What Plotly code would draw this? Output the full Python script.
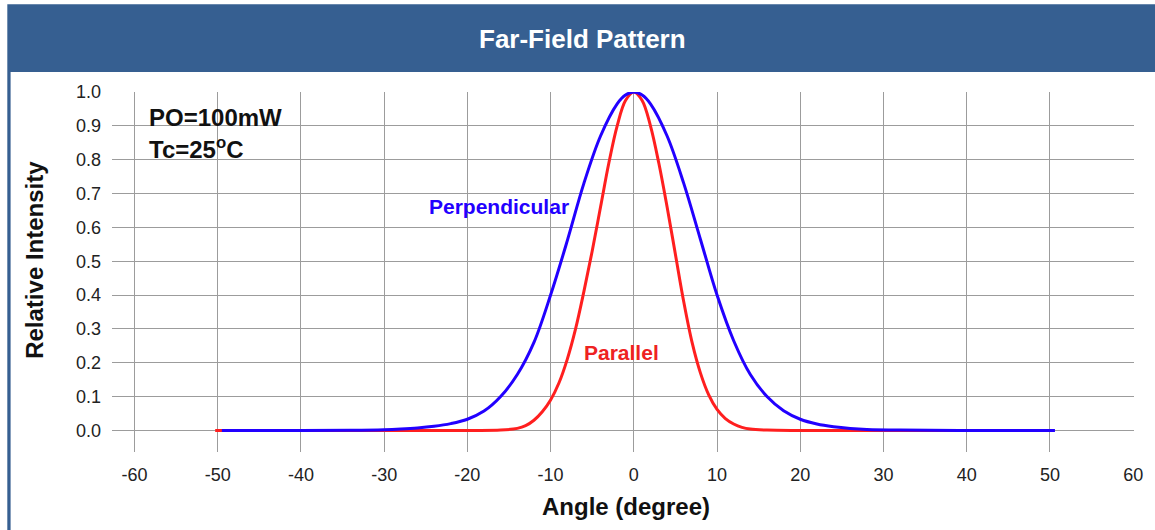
import plotly.graph_objects as go

# ---- data ----
perp_angle = [-49.5, -40, -34, -30, -28, -26, -24, -22, -20, -18, -16, -14, -12, -10, -8, -6, -4, -2, -1, 0,
              1, 2, 4, 6, 8, 10, 12, 14, 16, 18, 20, 22, 24, 26, 28, 32, 40, 50.6]
perp_value = [0, 0, 0.0005, 0.002, 0.004, 0.007, 0.012, 0.02, 0.033, 0.057, 0.10, 0.165, 0.26, 0.40, 0.56,
              0.73, 0.87, 0.965, 0.991, 1.0,
              0.991, 0.965, 0.87, 0.73, 0.565, 0.40, 0.265, 0.165, 0.10, 0.058, 0.033, 0.019, 0.011, 0.006,
              0.003, 0.001, 0, 0]

para_angle = [-50.3, -30, -20, -16, -14, -13, -12, -11, -10, -9, -8, -7, -6, -5, -4, -3, -2, -1, 0,
              1, 2, 3, 4, 5, 6, 7, 8, 9, 10, 11, 12, 13, 14, 16, 20, 30, 50]
para_value = [0, 0, 0, 0.001, 0.006, 0.014, 0.03, 0.055, 0.09, 0.14, 0.21, 0.30, 0.41, 0.53, 0.66,
              0.79, 0.90, 0.975, 1.0,
              0.975, 0.90, 0.79, 0.66, 0.52, 0.38, 0.26, 0.17, 0.105, 0.062, 0.035, 0.019, 0.009, 0.004,
              0.001, 0, 0, 0]

x_tick_vals = [-60, -50, -40, -30, -20, -10, 0, 10, 20, 30, 40, 50, 60]
x_tick_text = ["-60", "-50", "-40", "-30", "-20", "-10", "0", "10", "20", "30", "40", "50", "60"]
y_tick_vals = [0.0, 0.1, 0.2, 0.3, 0.4, 0.5, 0.6, 0.7, 0.8, 0.9, 1.0]
y_tick_text = ["0.0", "0.1", "0.2", "0.3", "0.4", "0.5", "0.6", "0.7", "0.8", "0.9", "1.0"]

title_text = "Far-Field Pattern"
x_title = "Angle (degree)"
y_title = "Relative Intensity"
note_lines = ["PO=100mW", "Tc=25<sup>o</sup>C"]

# ---- layout geometry (pixels) ----
W, H = 1155, 530
L, R, T, B = 111.7, 1136.7, 91.7, 451.7
PW, PH = R - L, B - T

def px(x):
    return (x - L) / PW

def py(y):
    return (B - y) / PH

FONT = "Arial, Liberation Sans, sans-serif"
BLUE = "#2200ff"
RED = "#ff1f1f"
HEADER = "#365f91"

fig = go.Figure()
fig.add_trace(go.Scatter(x=para_angle, y=para_value, mode="lines", name="Parallel",
                         line=dict(color=RED, width=3, shape="spline", smoothing=1.0)))
fig.add_trace(go.Scatter(x=perp_angle, y=perp_value, mode="lines", name="Perpendicular",
                         line=dict(color=BLUE, width=3, shape="spline", smoothing=1.0)))

fig.update_layout(
    width=W, height=H,
    margin=dict(l=L, r=W - R, t=T, b=H - B, pad=0),
    paper_bgcolor="white", plot_bgcolor="white",
    showlegend=False,
    font=dict(family=FONT, color="#222222"),
    shapes=[
        dict(type="rect", xref="paper", yref="paper", x0=px(6.7), x1=px(1170), y0=py(71.7), y1=py(4),
             fillcolor=HEADER, line=dict(width=0), layer="below"),
        dict(type="rect", xref="paper", yref="paper", x0=px(6.7), x1=px(10), y0=py(560), y1=py(71.7),
             fillcolor=HEADER, line=dict(width=0), layer="below"),
    ],
    annotations=[
        dict(text="<b>%s</b>" % title_text, xref="paper", yref="paper", x=px(584), y=py(39),
             xanchor="center", yanchor="middle", showarrow=False,
             font=dict(family=FONT, size=26, color="white")),
        dict(text="<b>%s</b>" % x_title, xref="paper", yref="paper", x=px(627), y=py(506),
             xanchor="center", yanchor="middle", showarrow=False,
             font=dict(family=FONT, size=24, color="#111111")),
        dict(text="<b>%s</b>" % y_title, xref="paper", yref="paper", x=px(34), y=py(260),
             xanchor="center", yanchor="middle", showarrow=False, textangle=-90,
             font=dict(family=FONT, size=24, color="#111111")),
        dict(text="<b>%s</b>" % note_lines[0], xref="paper", yref="paper", x=px(147), y=py(117),
             xanchor="left", yanchor="middle", showarrow=False,
             font=dict(family=FONT, size=24, color="#111111")),
        dict(text="<b>%s</b>" % note_lines[1], xref="paper", yref="paper", x=px(147), y=py(148),
             xanchor="left", yanchor="middle", showarrow=False,
             font=dict(family=FONT, size=24, color="#111111")),
        dict(text="<b>Perpendicular</b>", xref="paper", yref="paper", x=px(428), y=py(206),
             xanchor="left", yanchor="middle", showarrow=False,
             font=dict(family=FONT, size=21, color=BLUE)),
        dict(text="<b>Parallel</b>", xref="paper", yref="paper", x=px(583), y=py(352),
             xanchor="left", yanchor="middle", showarrow=False,
             font=dict(family=FONT, size=21, color="#ee2222")),
    ],
)

fig.update_xaxes(range=[-62.7, 60.1], tickmode="array", tickvals=x_tick_vals, ticktext=x_tick_text,
                 showgrid=True, gridcolor="#9c9c9c", gridwidth=1, zeroline=False, showline=False,
                 ticks="", ticklabelstandoff=10, tickfont=dict(family=FONT, size=18, color="#222222"))
fig.update_yaxes(range=[-0.0638, 1.0], tickmode="array", tickvals=y_tick_vals, ticktext=y_tick_text,
                 showgrid=True, gridcolor="#9c9c9c", gridwidth=1, zeroline=False, showline=False,
                 ticks="", ticklabelstandoff=10, tickfont=dict(family=FONT, size=18, color="#222222"))

fig.write_html("out.html", config={"displayModeBar": False},
               post_script="document.body.style.margin='0';")
